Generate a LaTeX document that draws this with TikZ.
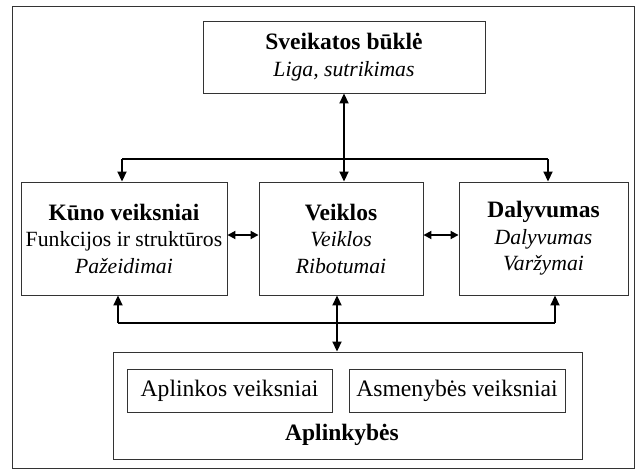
\documentclass[tikz,border=0pt]{standalone}
\usepackage{fontspec}
\setmainfont{Liberation Serif}
\usetikzlibrary{arrows.meta}
\tikzset{
  box/.style={draw=black!80, line width=0.9pt, inner sep=0pt, align=center,
    font=\fontsize{21.7}{26.5}\selectfont},
  inbox/.style={draw=black!80, line width=0.9pt, inner sep=0pt, align=center,
    font=\fontsize{23.6}{26.5}\selectfont},
  conn/.style={line width=1.8pt},
  thinconn/.style={line width=1.3pt},
  tip/.style={-{Triangle[length=10pt,width=9pt]}},
  dtip/.style={{Triangle[length=10pt,width=9pt]}-{Triangle[length=10pt,width=9pt]}},
  stip/.style={{Triangle[length=8pt,width=8pt]}-{Triangle[length=8pt,width=8pt]}},
}
\newcommand{\hd}[1]{{\fontsize{23.5}{26.5}\selectfont\bfseries #1}}
\begin{document}
\begin{tikzpicture}[x=1pt,y=-1pt]
\useasboundingbox (0,0) rectangle (642,474);
\draw[draw=black!80, line width=0.9pt] (12,6) rectangle (634,468);

\node[box, minimum width=282pt, minimum height=72pt] (top) at (344,57)
  {\hd{Sveikatos būklė}\\ \textit{Liga, sutrikimas}};
\node[box, minimum width=206pt, minimum height=113pt] (kuno) at (124,238.5)
  {\hd{Kūno veiksniai}\\ Funkcijos ir struktūros\\ \textit{Pažeidimai}};
\node[box, minimum width=164pt, minimum height=113pt] (veik) at (341,238.5)
  {\hd{Veiklos}\\ \textit{Veiklos}\\ \textit{Ribotumai}};
\node[box, minimum width=169pt, minimum height=113pt] (daly) at (543.5,238.5)
  {\hd{Dalyvumas}\\ \textit{Dalyvumas}\\ \textit{Varžymai}};
\node[box, minimum width=469pt, minimum height=107pt] (aplink) at (347.5,405.5) {};
\node[inbox, minimum width=205pt, minimum height=43pt] (in1) at (229.5,390.5) {Aplinkos veiksniai};
\node[inbox, minimum width=216pt, minimum height=43pt] (in2) at (457,390.5) {Asmenybės veiksniai};
\node[inner sep=0pt, font=\fontsize{23.5}{26.5}\selectfont\bfseries] (lab) at (342,435) {Aplinkybės};

% top connections
\draw[conn, dtip] (top.south) -- (top.south |- veik.north);
\coordinate (jl) at (122,159);
\coordinate (jr) at (548,159);
\draw[thinconn] (jl) -- (jr);
\draw[conn, tip] (jl) -- (jl |- kuno.north);
\draw[conn, tip] (jr) -- (jr |- daly.north);

% side connections
\coordinate (sy) at (0,235);
\draw[conn, stip] (kuno.east |- sy) -- (veik.west |- sy);
\draw[conn, stip] (veik.east |- sy) -- (daly.west |- sy);

% bottom connections
\coordinate (bl) at (118,323);
\coordinate (br) at (555,323);
\coordinate (bm) at (337,323);
\draw[conn] (bl) -- (br);
\draw[conn, tip] (bl) -- (bl |- kuno.south);
\draw[conn, tip] (br) -- (br |- daly.south);
\draw[conn, dtip] (bm |- veik.south) -- (bm |- aplink.north);
\end{tikzpicture}
\end{document}
